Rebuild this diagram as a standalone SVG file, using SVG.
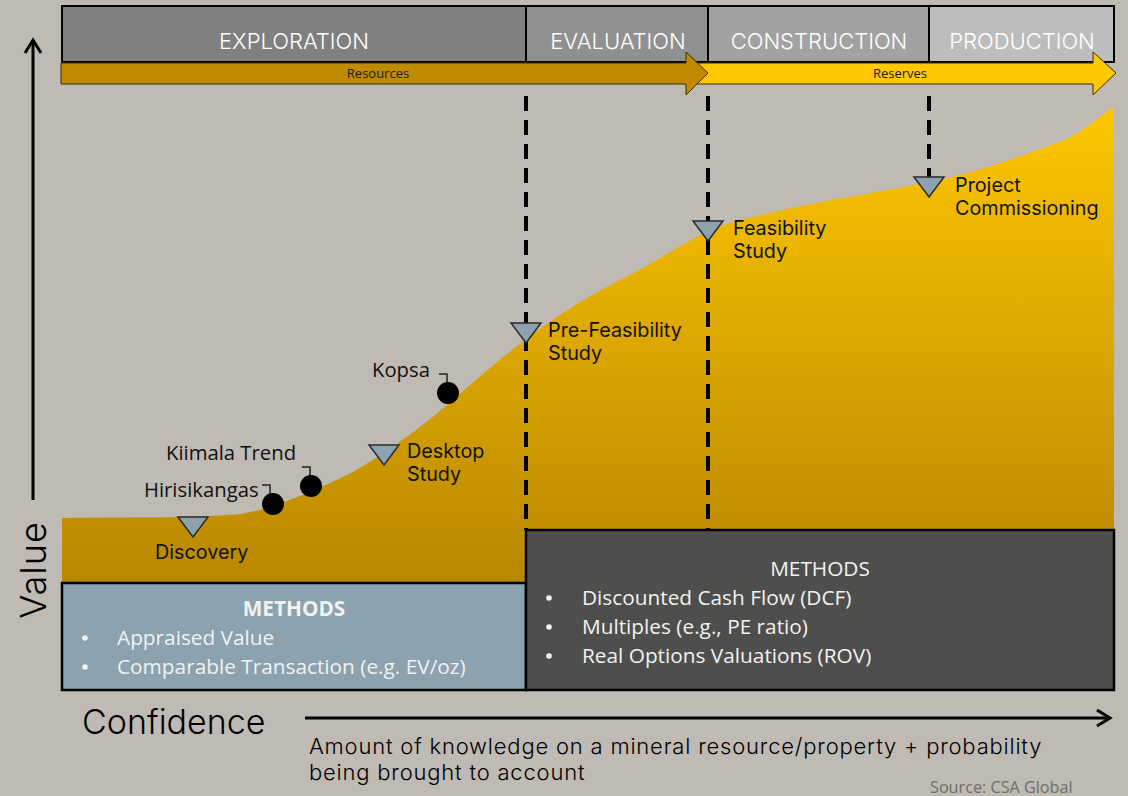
<svg xmlns="http://www.w3.org/2000/svg" width="1128" height="796" viewBox="0 0 1128 796">
<defs>
<linearGradient id="gArea" x1="0" y1="100" x2="0" y2="585" gradientUnits="userSpaceOnUse">
<stop offset="0" stop-color="#ffc800"/>
<stop offset="1" stop-color="#b98600"/>
</linearGradient>
<marker id="chev" viewBox="0 0 20 20" refX="17" refY="10" markerWidth="20" markerHeight="20" markerUnits="userSpaceOnUse" orient="auto">
<path d="M4 2 L17 10 L4 18" fill="none" stroke="#000" stroke-width="3"/>
</marker>
<style>
.phase{font-family:Inter,"Liberation Sans",sans-serif;font-size:22px;fill:#fff;text-anchor:middle;font-weight:300}
.small{font-family:"Open Sans","Liberation Sans",sans-serif;font-size:13px;fill:#1a1a1a;text-anchor:middle}
.lbl{font-family:Inter,"Liberation Sans",sans-serif;font-size:19.8px;fill:#111}
.co{font-family:"Open Sans","Liberation Sans",sans-serif;font-size:20.3px;fill:#111}
.meth{font-family:"Open Sans","Liberation Sans",sans-serif;font-size:20.8px;fill:#f2f2f2}
.bul{fill:#f2f2f2}
.tri{fill:#8ca2ae;stroke:#2b2b2b;stroke-width:1.5}
.dash{stroke:#000;stroke-width:4;stroke-dasharray:15 9;fill:none}
.dot{fill:#000}
.lead{fill:none;stroke:#222;stroke-width:1.5}
.axis{font-family:Inter,"Liberation Sans",sans-serif;fill:#000;font-weight:300}
</style>
</defs>
<rect x="0" y="0" width="1128" height="796" fill="#bfbab4"/>

<g id="value-area">
<path d="M62 518 C130 517 200 518 240 514 C275 508 300 496 330 483 C370 466 420 430 470 385 C510 350 560 310 620 280 C660 260 690 238 720 226 C790 205 860 196 929 182 C990 170 1030 152 1065 140 C1085 130 1100 116 1114 107 L1114 530 L526 530 L526 583 L62 583 Z" fill="url(#gArea)"/>
</g>

<g id="phases">
<rect x="62" y="6" width="464" height="56" fill="#808080" stroke="#000" stroke-width="2"/>
<rect x="526" y="6" width="182" height="56" fill="#909090" stroke="#000" stroke-width="2"/>
<rect x="708" y="6" width="221" height="56" fill="#a2a2a2" stroke="#000" stroke-width="2"/>
<rect x="929" y="6" width="185" height="56" fill="#bdbdbd" stroke="#000" stroke-width="2"/>
<text class="phase" x="294" y="49">EXPLORATION</text>
<text class="phase" x="618" y="49">EVALUATION</text>
<text class="phase" x="819" y="49">CONSTRUCTION</text>
<text class="phase" x="1022" y="49">PRODUCTION</text>
</g>

<g id="reserves-arrow">
<path d="M697 63 L1093 63 L1093 52 L1116 73 L1093 95 L1093 84 L697 84 Z" fill="#ffc800" stroke="#3a3000" stroke-width="1"/>
<text class="small" x="900" y="78">Reserves</text>
</g>
<g id="resources-arrow">
<path d="M61 63 L686 63 L686 52 L708 73 L686 95 L686 84 L61 84 Z" fill="#bf8a00" stroke="#3a3000" stroke-width="1"/>
<text class="small" x="378" y="78">Resources</text>
</g>

<g id="connectors">
<line class="dash" x1="526" y1="96" x2="526" y2="530"/>
<line class="dash" x1="708" y1="96" x2="708" y2="530"/>
<line class="dash" x1="929" y1="96" x2="929" y2="178"/>
<line x1="33" y1="500" x2="33" y2="40" stroke="#000" stroke-width="3" marker-end="url(#chev)"/>
<line x1="305" y1="718" x2="1110" y2="718" stroke="#000" stroke-width="3" marker-end="url(#chev)"/>
<path class="lead" d="M262 485 H270 V494"/>
<path class="lead" d="M302 467 H310 V476"/>
<path class="lead" d="M439 374 H447 V383"/>
</g>

<g id="discovery">
<path class="tri" d="M178 517 L208 517 L193 537 Z"/>
<text class="lbl" x="155" y="559">Discovery</text>
</g>
<g id="desktop-study">
<path class="tri" d="M369 445 L399 445 L384 465 Z"/>
<text class="lbl" x="407" y="458">Desktop</text>
<text class="lbl" x="407" y="481">Study</text>
</g>
<g id="pre-feasibility">
<path class="tri" d="M511 323 L541 323 L526 343 Z"/>
<text class="lbl" x="548" y="337">Pre-Feasibility</text>
<text class="lbl" x="548" y="360">Study</text>
</g>
<g id="feasibility">
<path class="tri" d="M693 221 L723 221 L708 241 Z"/>
<text class="lbl" x="733" y="235">Feasibility</text>
<text class="lbl" x="733" y="258">Study</text>
</g>
<g id="commissioning">
<path class="tri" d="M914 177 L944 177 L929 197 Z"/>
<text class="lbl" x="955" y="192">Project</text>
<text class="lbl" x="955" y="215">Commissioning</text>
</g>

<g id="hirisikangas">
<circle class="dot" cx="273" cy="504" r="11"/>
<text class="co" x="144" y="497">Hirisikangas</text>
</g>
<g id="kiimala">
<circle class="dot" cx="311" cy="486" r="11"/>
<text class="co" x="166" y="460">Kiimala Trend</text>
</g>
<g id="kopsa">
<circle class="dot" cx="448" cy="393" r="11"/>
<text class="co" x="372" y="377">Kopsa</text>
</g>

<g id="methods-early">
<rect x="62" y="583" width="464" height="107" fill="#8ca2ae" stroke="#000" stroke-width="2.5"/>
<text class="meth" x="294" y="616" text-anchor="middle" font-weight="bold">METHODS</text>
<circle class="bul" cx="85" cy="638" r="2.8"/>
<text class="meth" x="117" y="645">Appraised Value</text>
<circle class="bul" cx="85" cy="667" r="2.8"/>
<text class="meth" x="117" y="674">Comparable Transaction (e.g. EV/oz)</text>
</g>
<g id="methods-late">
<rect x="526" y="530" width="588" height="160" fill="#4e4e4c" stroke="#000" stroke-width="2.5"/>
<text class="meth" x="820" y="576" text-anchor="middle">METHODS</text>
<circle class="bul" cx="549" cy="598" r="2.8"/>
<text class="meth" x="582" y="605">Discounted Cash Flow (DCF)</text>
<circle class="bul" cx="549" cy="627" r="2.8"/>
<text class="meth" x="582" y="634">Multiples (e.g., PE ratio)</text>
<circle class="bul" cx="549" cy="656" r="2.8"/>
<text class="meth" x="582" y="663">Real Options Valuations (ROV)</text>
</g>

<g id="axes-labels">
<text class="axis" font-size="36" letter-spacing="1" transform="translate(46 570) rotate(-90)" text-anchor="middle">Value</text>
<text class="axis" font-size="34" x="82" y="734">Confidence</text>
<text class="axis" font-size="22" letter-spacing="0.8" x="309" y="754">Amount of knowledge on a mineral resource/property + probability</text>
<text class="axis" font-size="22" letter-spacing="0.8" x="309" y="780">being brought to account</text>
<text font-family="'Open Sans','Liberation Sans',sans-serif" font-size="16.2" fill="#6e6e6e" x="930" y="793">Source: CSA Global</text>
</g>
</svg>
